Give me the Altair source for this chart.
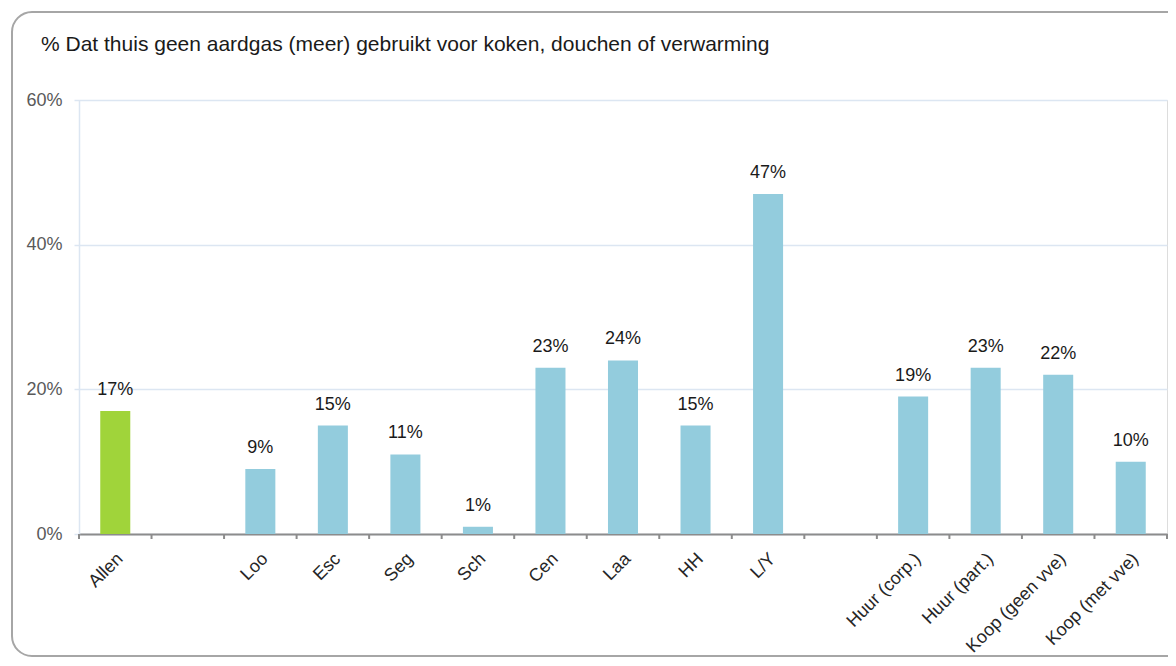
import altair as alt
import pandas as pd

categories = ["Allen", "Loo", "Esc", "Seg", "Sch", "Cen", "Laa", "HH", "L/Y",
              "Huur (corp.)", "Huur (part.)", "Koop (geen vve)", "Koop (met vve)"]
values = [17, 9, 15, 11, 1, 23, 24, 15, 47, 19, 23, 22, 10]
groups = ["all"] + ["area"] * 12
axis_order = ["Allen", " ", "Loo", "Esc", "Seg", "Sch", "Cen", "Laa", "HH", "L/Y",
              "  ", "Huur (corp.)", "Huur (part.)", "Koop (geen vve)", "Koop (met vve)"]
title_text = "% Dat thuis geen aardgas (meer) gebruikt voor koken, douchen of verwarming"

df = pd.DataFrame({"cat": categories, "val": [v / 100 for v in values], "grp": groups})
slots = pd.DataFrame({"cat": axis_order})
last_slot = pd.DataFrame({"cat": axis_order[-1:]})

FONT = "Liberation Sans"
W, H = 1088, 434
P_IN = 0.586

xscale = alt.Scale(domain=axis_order, paddingInner=P_IN, paddingOuter=P_IN / 2)
slot_scale = alt.Scale(domain=axis_order, paddingInner=0, paddingOuter=0)
yscale = alt.Scale(domain=[0, 0.6])

x_axis = alt.Axis(orient="bottom", title=None, ticks=False, domain=True,
                  domainColor="#8C8C8C", domainWidth=2, labelAngle=-45,
                  labelAlign="right", labelBaseline="middle", labelPadding=22,
                  labelOffset=5, labelFont=FONT, labelFontSize=18,
                  labelColor="#262626", labelOverlap=False, labelLimit=300,
                  grid=False)
y_axis = alt.Axis(title=None, format="%", values=[0, 0.2, 0.4, 0.6],
                  grid=True, gridColor="#DCE6F2", gridWidth=1.5,
                  domainColor="#DCE6F2", domainWidth=1.5,
                  tickColor="#DCE6F2", tickSize=5, tickWidth=1.5,
                  labelFont=FONT, labelFontSize=18, labelColor="#595959",
                  labelPadding=12)

border = alt.Chart(alt.Data(values=[{}])).mark_rect(
    fill=None, stroke="#A6A6A6", strokeWidth=2, cornerRadius=20
).encode(x=alt.value(-67), x2=alt.value(W + 60), y=alt.value(-88), y2=alt.value(556))

bars = alt.Chart(df).mark_bar().encode(
    x=alt.X("cat:N", scale=xscale, axis=x_axis, sort=axis_order),
    y=alt.Y("val:Q", scale=yscale, axis=y_axis),
    color=alt.Color("grp:N", scale=alt.Scale(domain=["all", "area"],
                                             range=["#A0D43A", "#93CCDD"]), legend=None),
)

texts = alt.Chart(df).mark_text(
    font=FONT, fontSize=18, color="#1A1A1A", baseline="alphabetic", dy=-16
).encode(
    x=alt.X("cat:N", scale=xscale, axis=None, sort=axis_order),
    y=alt.Y("val:Q", scale=yscale, axis=y_axis),
    text=alt.Text("val:Q", format=".0%"),
)

ticks = alt.Chart(slots).mark_rule(color="#8C8C8C", strokeWidth=2).encode(
    x=alt.X("cat:N", scale=slot_scale, axis=None, sort=axis_order, bandPosition=0),
    y=alt.value(H), y2=alt.value(H + 5),
)
end_tick = alt.Chart(last_slot).mark_rule(color="#8C8C8C", strokeWidth=2).encode(
    x=alt.X("cat:N", scale=slot_scale, axis=None, sort=axis_order, bandPosition=1),
    y=alt.value(H), y2=alt.value(H + 5),
)

chart = alt.layer(border, bars, texts, ticks, end_tick).resolve_scale(
    x="independent"
).properties(
    width=W, height=H,
    autosize=alt.AutoSizeParams(type="none"),
    padding={"left": 71, "top": 92, "right": 1, "bottom": 124},
    title=alt.TitleParams(title_text, anchor="start", frame="group", font=FONT,
                          fontSize=21, fontWeight="normal", color="#1A1A1A",
                          baseline="alphabetic", dx=-38, offset=-61),
).configure_view(stroke=None).configure(background="white")

chart.save("out.html", embed_options={"renderer": "svg", "actions": False})
